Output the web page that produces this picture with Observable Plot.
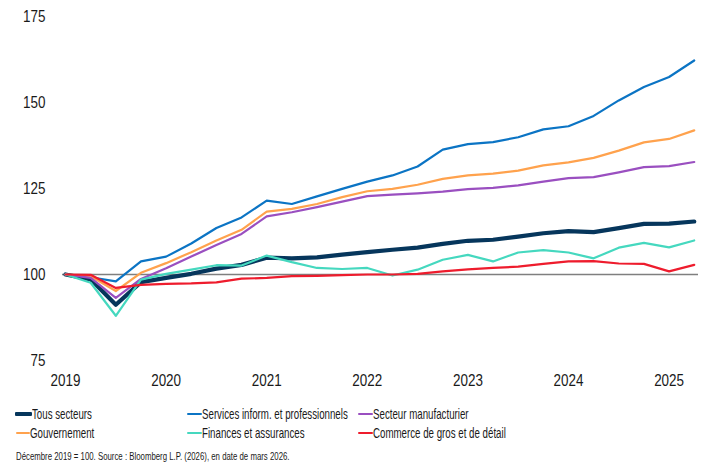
<!DOCTYPE html>
<html>
<head>
<meta charset="utf-8">
<script src="https://cdn.jsdelivr.net/npm/d3@7"></script>
<script src="https://cdn.jsdelivr.net/npm/@observablehq/plot@0.6"></script>
<style>
  body { margin: 0; background: #fff; }
  #wrap { position: relative; width: 705px; height: 466px; font-family: "Liberation Sans", Arial, sans-serif; color: #1a1a1a; }
  #chart { position: absolute; left: 0; top: 0; }
  .item { position: absolute; height: 18px; display: flex; align-items: center; white-space: nowrap; }
  .sw { display: inline-block; }
  .lab { display: inline-block; font-size: 14.5px; transform: scaleX(0.67); transform-origin: left center; }
  #caption { position: absolute; left: 16px; top: 450px; font-size: 11.5px; white-space: nowrap; transform: scaleX(0.68); transform-origin: left center; }
</style>
</head>
<body>
<div id="wrap">
  <div id="chart"></div>
  <div id="legend"></div>
  <div id="caption">Décembre 2019 = 100. Source : Bloomberg L.P. (2026), en date de mars 2026.</div>
</div>
<script>
// Quarterly index, Dec 2019 = 100 (quarter 0 = 2019 T4)
const quarters = d3.range(26);
const yearLabels = ["2019", "2020", "2021", "2022", "2023", "2024", "2025"];
const yTicks = [75, 100, 125, 150, 175];

const seriesNames = [
  "Tous secteurs",
  "Services inform. et professionnels",
  "Secteur manufacturier",
  "Gouvernement",
  "Finances et assurances",
  "Commerce de gros et de détail"
];
const seriesColors = ["#06365c", "#0b74c4", "#9a4fc0", "#ffa24d", "#45d8bf", "#ee1c2d"];

const tousSecteurs = [100, 98.6, 91.2, 97.8, 99.0, 100.2, 101.7, 102.8, 104.9, 104.7, 105.0, 105.8, 106.5, 107.2, 107.8, 108.9, 109.8, 110.1, 111.0, 112.0, 112.6, 112.3, 113.5, 114.7, 114.8, 115.4];
const services = [100, 99.2, 98.0, 103.8, 105.2, 109.0, 113.5, 116.6, 121.5, 120.5, 122.7, 124.9, 127.0, 128.8, 131.4, 136.3, 137.9, 138.5, 139.9, 142.2, 143.1, 146.1, 150.6, 154.5, 157.4, 162.2];
const manufacturier = [100, 99.0, 93.2, 98.7, 101.8, 105.2, 108.6, 111.8, 116.9, 118.1, 119.6, 121.2, 122.8, 123.2, 123.6, 124.1, 124.8, 125.2, 125.9, 127.0, 128.0, 128.3, 129.7, 131.2, 131.5, 132.7];
const gouvernement = [100, 99.5, 95.2, 100.5, 103.3, 106.5, 109.9, 113.0, 118.3, 119.1, 120.5, 122.5, 124.2, 124.9, 126.1, 127.8, 128.8, 129.3, 130.2, 131.7, 132.6, 133.9, 136.0, 138.4, 139.4, 141.9];
const finances = [100, 97.6, 88.0, 98.5, 100.2, 101.4, 102.7, 102.6, 105.5, 103.6, 101.9, 101.6, 101.9, 99.7, 101.4, 104.3, 105.7, 103.8, 106.4, 107.1, 106.4, 104.7, 107.8, 109.2, 107.9, 109.9];
const commerce = [100, 99.9, 96.1, 97.0, 97.3, 97.4, 97.7, 98.8, 99.0, 99.5, 99.6, 99.8, 100.0, 100.0, 100.2, 100.9, 101.5, 101.9, 102.3, 103.1, 103.8, 103.9, 103.2, 103.1, 100.9, 102.8];

const seriesValues = [tousSecteurs, services, manufacturier, gouvernement, finances, commerce];
const seriesWidths = [4.2, 2.2, 2.2, 2.2, 2.2, 2.2];

const data = seriesNames.flatMap((name, s) =>
  seriesValues[s].map((v, i) => ({ q: quarters[i], v, name }))
);

// draw order: thick total first, then others
const drawOrder = [0, 1, 3, 2, 4, 5];

const chart = Plot.plot({
  width: 705,
  height: 392,
  marginLeft: 62,
  marginRight: 7,
  marginTop: 16,
  marginBottom: 32,
  style: { fontFamily: '"Liberation Sans", Arial, sans-serif', fontSize: "16px", color: "#1a1a1a", background: "transparent" },
  x: { domain: [-0.12, 25.17], ticks: yearLabels.map((_, k) => k * 4), tickFormat: d => yearLabels[d / 4], tickSize: 0, tickPadding: 14, label: null },
  y: { domain: [75, 175], ticks: yTicks, tickSize: 0, tickPadding: 17, label: null },
  marks: [
    Plot.ruleY([100], { stroke: "#7f7f7f", strokeWidth: 1.5 }),
    ...drawOrder.map(s =>
      Plot.lineY(data.filter(d => d.name === seriesNames[s]), {
        x: "q", y: "v", stroke: seriesColors[s], strokeWidth: seriesWidths[s], strokeLinejoin: "round"
      })
    )
  ]
});
document.getElementById("chart").appendChild(chart);

// condense the axis tick labels (the original uses a condensed face)
chart.querySelectorAll("g[aria-label$='tick label'] text").forEach(t => {
  const w = t.getComputedTextLength();
  t.setAttribute("textLength", (w * 0.84).toFixed(1));
  t.setAttribute("lengthAdjust", "spacingAndGlyphs");
});

// legend (3 columns x 2 rows)
const legendPos = [
  { x: 15, y: 414, w: 17 },
  { x: 187, y: 414, w: 15 },
  { x: 358, y: 414, w: 15 },
  { x: 16, y: 433, w: 14 },
  { x: 187, y: 433, w: 15 },
  { x: 358, y: 433, w: 15 }
];
const legend = document.getElementById("legend");
seriesNames.forEach((name, s) => {
  const p = legendPos[s];
  const item = document.createElement("div");
  item.className = "item";
  item.style.left = p.x + "px";
  item.style.top = (p.y - 9) + "px";
  const sw = document.createElement("span");
  sw.className = "sw";
  sw.style.width = p.w + "px";
  sw.style.height = (s === 0 ? 4 : 2.5) + "px";
  sw.style.background = seriesColors[s];
  sw.style.borderRadius = "1px";
  const lab = document.createElement("span");
  lab.className = "lab";
  lab.textContent = name;
  item.appendChild(sw);
  item.appendChild(lab);
  legend.appendChild(item);
});
</script>
</body>
</html>
